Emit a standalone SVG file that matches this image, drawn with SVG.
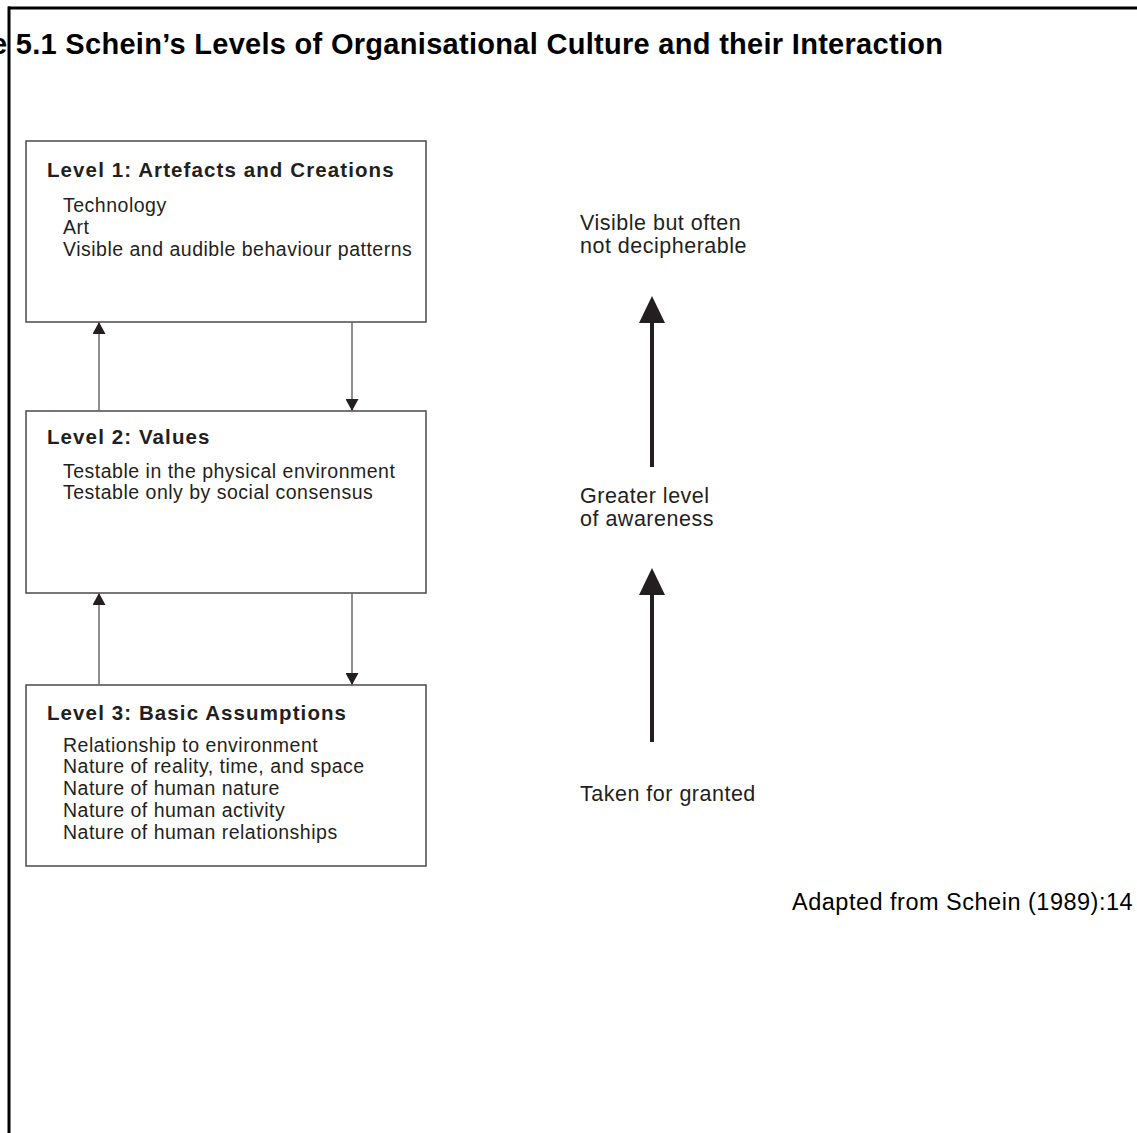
<svg xmlns="http://www.w3.org/2000/svg" width="1137" height="1133" viewBox="0 0 1137 1133">
<style>
  text { font-family: "Liberation Sans", Arial, sans-serif; fill: #231f20; }
  .title { font-size: 29px; font-weight: bold; fill: #000; }
  .head { font-size: 20.5px; font-weight: bold; letter-spacing: 1.1px; }
  .item { font-size: 19.5px; letter-spacing: 0.5px; }
  .side { font-size: 21.5px; letter-spacing: 0.5px; }
  .src { font-size: 23.5px; letter-spacing: 0.5px; fill: #000; }
  .box { fill: #fff; stroke: #4a4a4a; stroke-width: 1.5; }
  .thin { stroke: #6a6a6a; stroke-width: 1.5; fill: none; }
  .big { stroke: #231f20; stroke-width: 4; fill: none; }
  .head-fill { fill: #231f20; }
</style>
<defs>
  <marker id="ah" viewBox="0 0 12 13" refX="12" refY="6.5" markerWidth="12" markerHeight="13" markerUnits="userSpaceOnUse" orient="auto">
    <path d="M0,0 L12,6.5 L0,13 z" fill="#231f20"/>
  </marker>
</defs>
<rect width="1137" height="1133" fill="#fff"/>
<g id="frame">
  <line x1="8" y1="8" x2="1137" y2="8" stroke="#000" stroke-width="3"/>
  <line x1="9" y1="6.5" x2="9" y2="1133" stroke="#000" stroke-width="3"/>
</g>
<text id="title" class="title" x="-9" y="54" textLength="952" lengthAdjust="spacing">e 5.1 Schein’s Levels of Organisational Culture and their Interaction</text>
<g id="level1">
  <rect class="box" x="26" y="141" width="400" height="181"/>
  <text class="head" x="47" y="177">Level 1: Artefacts and Creations</text>
  <text class="item" x="63" y="212">Technology</text>
  <text class="item" x="63" y="234">Art</text>
  <text class="item" x="63" y="256">Visible and audible behaviour patterns</text>
</g>
<g id="level2">
  <rect class="box" x="26" y="411" width="400" height="182"/>
  <text class="head" x="47" y="444">Level 2: Values</text>
  <text class="item" x="63" y="478">Testable in the physical environment</text>
  <text class="item" x="63" y="499">Testable only by social consensus</text>
</g>
<g id="level3">
  <rect class="box" x="26" y="685" width="400" height="181"/>
  <text class="head" x="47" y="720">Level 3: Basic Assumptions</text>
  <text class="item" x="63" y="752">Relationship to environment</text>
  <text class="item" x="63" y="773">Nature of reality, time, and space</text>
  <text class="item" x="63" y="795">Nature of human nature</text>
  <text class="item" x="63" y="817">Nature of human activity</text>
  <text class="item" x="63" y="839">Nature of human relationships</text>
</g>
<g id="labels">
  <text class="side" x="580" y="230">Visible but often</text>
  <text class="side" x="580" y="253">not decipherable</text>
  <text class="side" x="580" y="503">Greater level</text>
  <text class="side" x="580" y="526">of awareness</text>
  <text class="side" x="580" y="801">Taken for granted</text>
  <text class="src" x="792" y="910">Adapted from Schein (1989):14</text>
</g>
<g id="connectors">
  <line class="thin" x1="99" y1="411" x2="99" y2="322" marker-end="url(#ah)"/>
  <line class="thin" x1="352" y1="322" x2="352" y2="411" marker-end="url(#ah)"/>
  <line class="thin" x1="99" y1="685" x2="99" y2="593" marker-end="url(#ah)"/>
  <line class="thin" x1="352" y1="593" x2="352" y2="685" marker-end="url(#ah)"/>
  <line class="big" x1="652" y1="467" x2="652" y2="320"/>
  <path class="head-fill" d="M652,296 L665,323 L639,323 z"/>
  <line class="big" x1="652" y1="742" x2="652" y2="592"/>
  <path class="head-fill" d="M652,568 L665,595 L639,595 z"/>
</g>
</svg>
